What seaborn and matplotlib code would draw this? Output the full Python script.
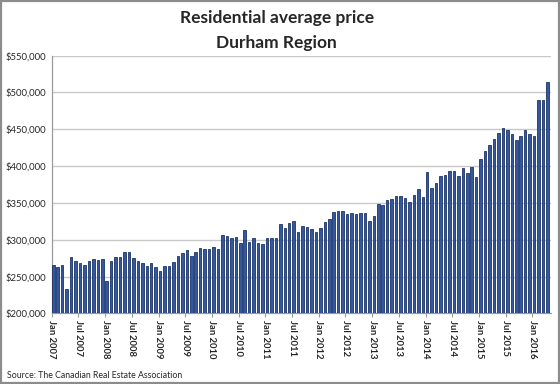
import matplotlib
matplotlib.use("Agg")
import matplotlib.pyplot as plt
import seaborn as sns
import pandas as pd
import numpy as np
from matplotlib.ticker import FuncFormatter
from matplotlib.patches import Rectangle

# ---- data (average price, $) ----
years = [2007, 2008, 2009, 2010, 2011, 2012, 2013, 2014, 2015, 2016]
p2007 = [265600, 263400, 265200, 232600, 276000, 271500, 267900, 265600, 271500, 273800, 272400, 273300]
p2008 = [243900, 271500, 276000, 276000, 282800, 282800, 275600, 271000, 268300, 264700, 268800, 262400]
p2009 = [257500, 263800, 263800, 270100, 278300, 282400, 285500, 278300, 282800, 289100, 286900, 286900]
p2010 = [289600, 286900, 306300, 304500, 301800, 304100, 295900, 312700, 297300, 302700, 295500, 294600]
p2011 = [302700, 301800, 301800, 321700, 316300, 322600, 324900, 310900, 319000, 317200, 314500, 310000]
p2012 = [316300, 323500, 328100, 337600, 338900, 338900, 334800, 336200, 335300, 336200, 336200, 325300]
p2013 = [331700, 348900, 347100, 353400, 355200, 358800, 359300, 357000, 351600, 360200, 368300, 357500]
p2014 = [392300, 370600, 376500, 386900, 387300, 393200, 392800, 386000, 397700, 391000, 398700, 384600]
p2015 = [410000, 420400, 428500, 437100, 445300, 451100, 448400, 443400, 435300, 440700, 448400, 443900]
p2016 = [441200, 489600, 489200, 514500]
month_names = ["Jan", "Feb", "Mar", "Apr", "May", "Jun", "Jul", "Aug", "Sep", "Oct", "Nov", "Dec"]

series = [p2007, p2008, p2009, p2010, p2011, p2012, p2013, p2014, p2015, p2016]
prices = [v for s in series for v in s]
months = [f"{month_names[m]} {y}" for y, s in zip(years, series) for m in range(len(s))]
df = pd.DataFrame({"month": months, "price": prices})

# ---- figure ----
sns.set_theme(style="white")
plt.rcParams['font.family'] = ['Lato', 'DejaVu Sans']

fig = plt.figure(figsize=(5.6, 3.84), dpi=100)
ax = fig.add_axes([0.0923, 0.184, 0.892, 0.671])

sns.barplot(data=df, x="month", y="price", color="#3457a0", width=0.56,
            saturation=1, edgecolor="#1c3566", linewidth=0.6, ax=ax, zorder=3)

n = len(prices)
ax.set_xlim(-0.36, n - 0.15)
ax.set_ylim(200000, 550000)
ax.set_yticks(np.arange(200000, 550001, 50000))
ax.yaxis.set_major_formatter(FuncFormatter(lambda v, p: f"${v:,.0f}"))
ax.grid(axis="y", color="#c8c8c8", linewidth=1.0, zorder=0)
ax.set_axisbelow(True)

tick_idx = list(range(0, n, 6))
ax.set_xticks([i - 0.36 for i in tick_idx])
ax.set_xticklabels([months[i] for i in tick_idx], rotation=-90, fontsize=6.8,
                   fontweight="bold", va="top", ha="center")
ax.tick_params(axis="x", length=3, width=0.8, color="#9a9a9a", pad=2, bottom=True)
ax.tick_params(axis="y", length=0, labelsize=6.8, pad=4)
ax.set_xlabel("")
ax.set_ylabel("")

for s in ["top", "right"]:
    ax.spines[s].set_visible(False)
for s in ["left", "bottom"]:
    ax.spines[s].set_color("#9a9a9a")
    ax.spines[s].set_linewidth(0.9)

fig.text(0.494, 0.952, "Residential average price", ha="center", va="center",
         fontsize=12.5, fontweight="bold")
fig.text(0.494, 0.889, "Durham Region", ha="center", va="center",
         fontsize=12.5, fontweight="bold")
fig.text(0.012, 0.022, "Source: The Canadian Real Estate Association", ha="left",
         va="center", fontsize=6.3)

fig.patches.append(Rectangle((0.001, 0.002), 0.997, 0.995, transform=fig.transFigure,
                             fill=False, edgecolor="#8c8c8c", linewidth=1.6))

fig.savefig("out.png", dpi=100)
